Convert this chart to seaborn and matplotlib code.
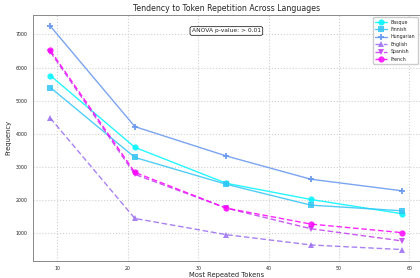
import pandas as pd
import numpy as np
import matplotlib
matplotlib.use('Agg')
import matplotlib.pyplot as plt
import seaborn as sns

tokens = [9, 21, 34, 46, 59]

basque = [5760, 3595, 2510, 2022, 1590]
finnish = [5400, 3290, 2480, 1851, 1680]
hungarian = [7250, 4220, 3333, 2633, 2282]
english = [4475, 1450, 960, 650, 510]
spanish = [6470, 2780, 1760, 1140, 770]
french = [6520, 2840, 1760, 1280, 1020]

languages = ['Basque', 'Finnish', 'Hungarian', 'English', 'Spanish', 'French']
colors = ['#00f5ff', '#33c4f5', '#6495ed', '#9a6bf0', '#c03cf0', '#ff00ff']
markers = ['o', 's', 'P', '^', 'v', 'o']
dashes = ['', '', '', (4, 2), (4, 2), (4, 2)]

df = pd.DataFrame({
    'Most Repeated Tokens': tokens * 6,
    'Frequency': basque + finnish + hungarian + english + spanish + french,
    'Language': np.repeat(languages, len(tokens)),
})

sns.set_style('whitegrid', {'grid.linestyle': ':', 'grid.color': '#d0d0d0',
                            'axes.edgecolor': '#888888'})
plt.rcParams['font.family'] = ['DejaVu Sans']

fig = plt.figure(figsize=(4.2, 2.78), dpi=100)
ax = fig.add_axes([0.078, 0.062, 0.922, 0.884])

sns.lineplot(data=df, x='Most Repeated Tokens', y='Frequency', hue='Language',
             style='Language', palette=dict(zip(languages, colors)),
             markers=dict(zip(languages, markers)), dashes=dict(zip(languages, dashes)),
             markersize=4.5, linewidth=1.0, alpha=0.85, markeredgewidth=0, ax=ax)

ax.set_title('Tendency to Token Repetition Across Languages', fontsize=5.6, pad=3)
ax.set_xlabel('Most Repeated Tokens', fontsize=4.9, labelpad=1)
ax.set_ylabel('Frequency', fontsize=4.9, labelpad=3)
ax.tick_params(labelsize=3.4, length=2, width=0.5, pad=1.5)
for s in ax.spines.values():
    s.set_linewidth(0.7)

ax.text(0.5, 0.935, 'ANOVA p-value: > 0.01', transform=ax.transAxes, ha='center', va='center',
        fontsize=4.3, bbox=dict(boxstyle='round,pad=0.3', fc='white', ec='black', lw=0.5))

ax.legend(loc='upper right', fontsize=3.4, frameon=True, handlelength=2.5,
          borderpad=0.5, labelspacing=0.5, framealpha=1, edgecolor='#cccccc')

fig.savefig('out.png', dpi=100)
